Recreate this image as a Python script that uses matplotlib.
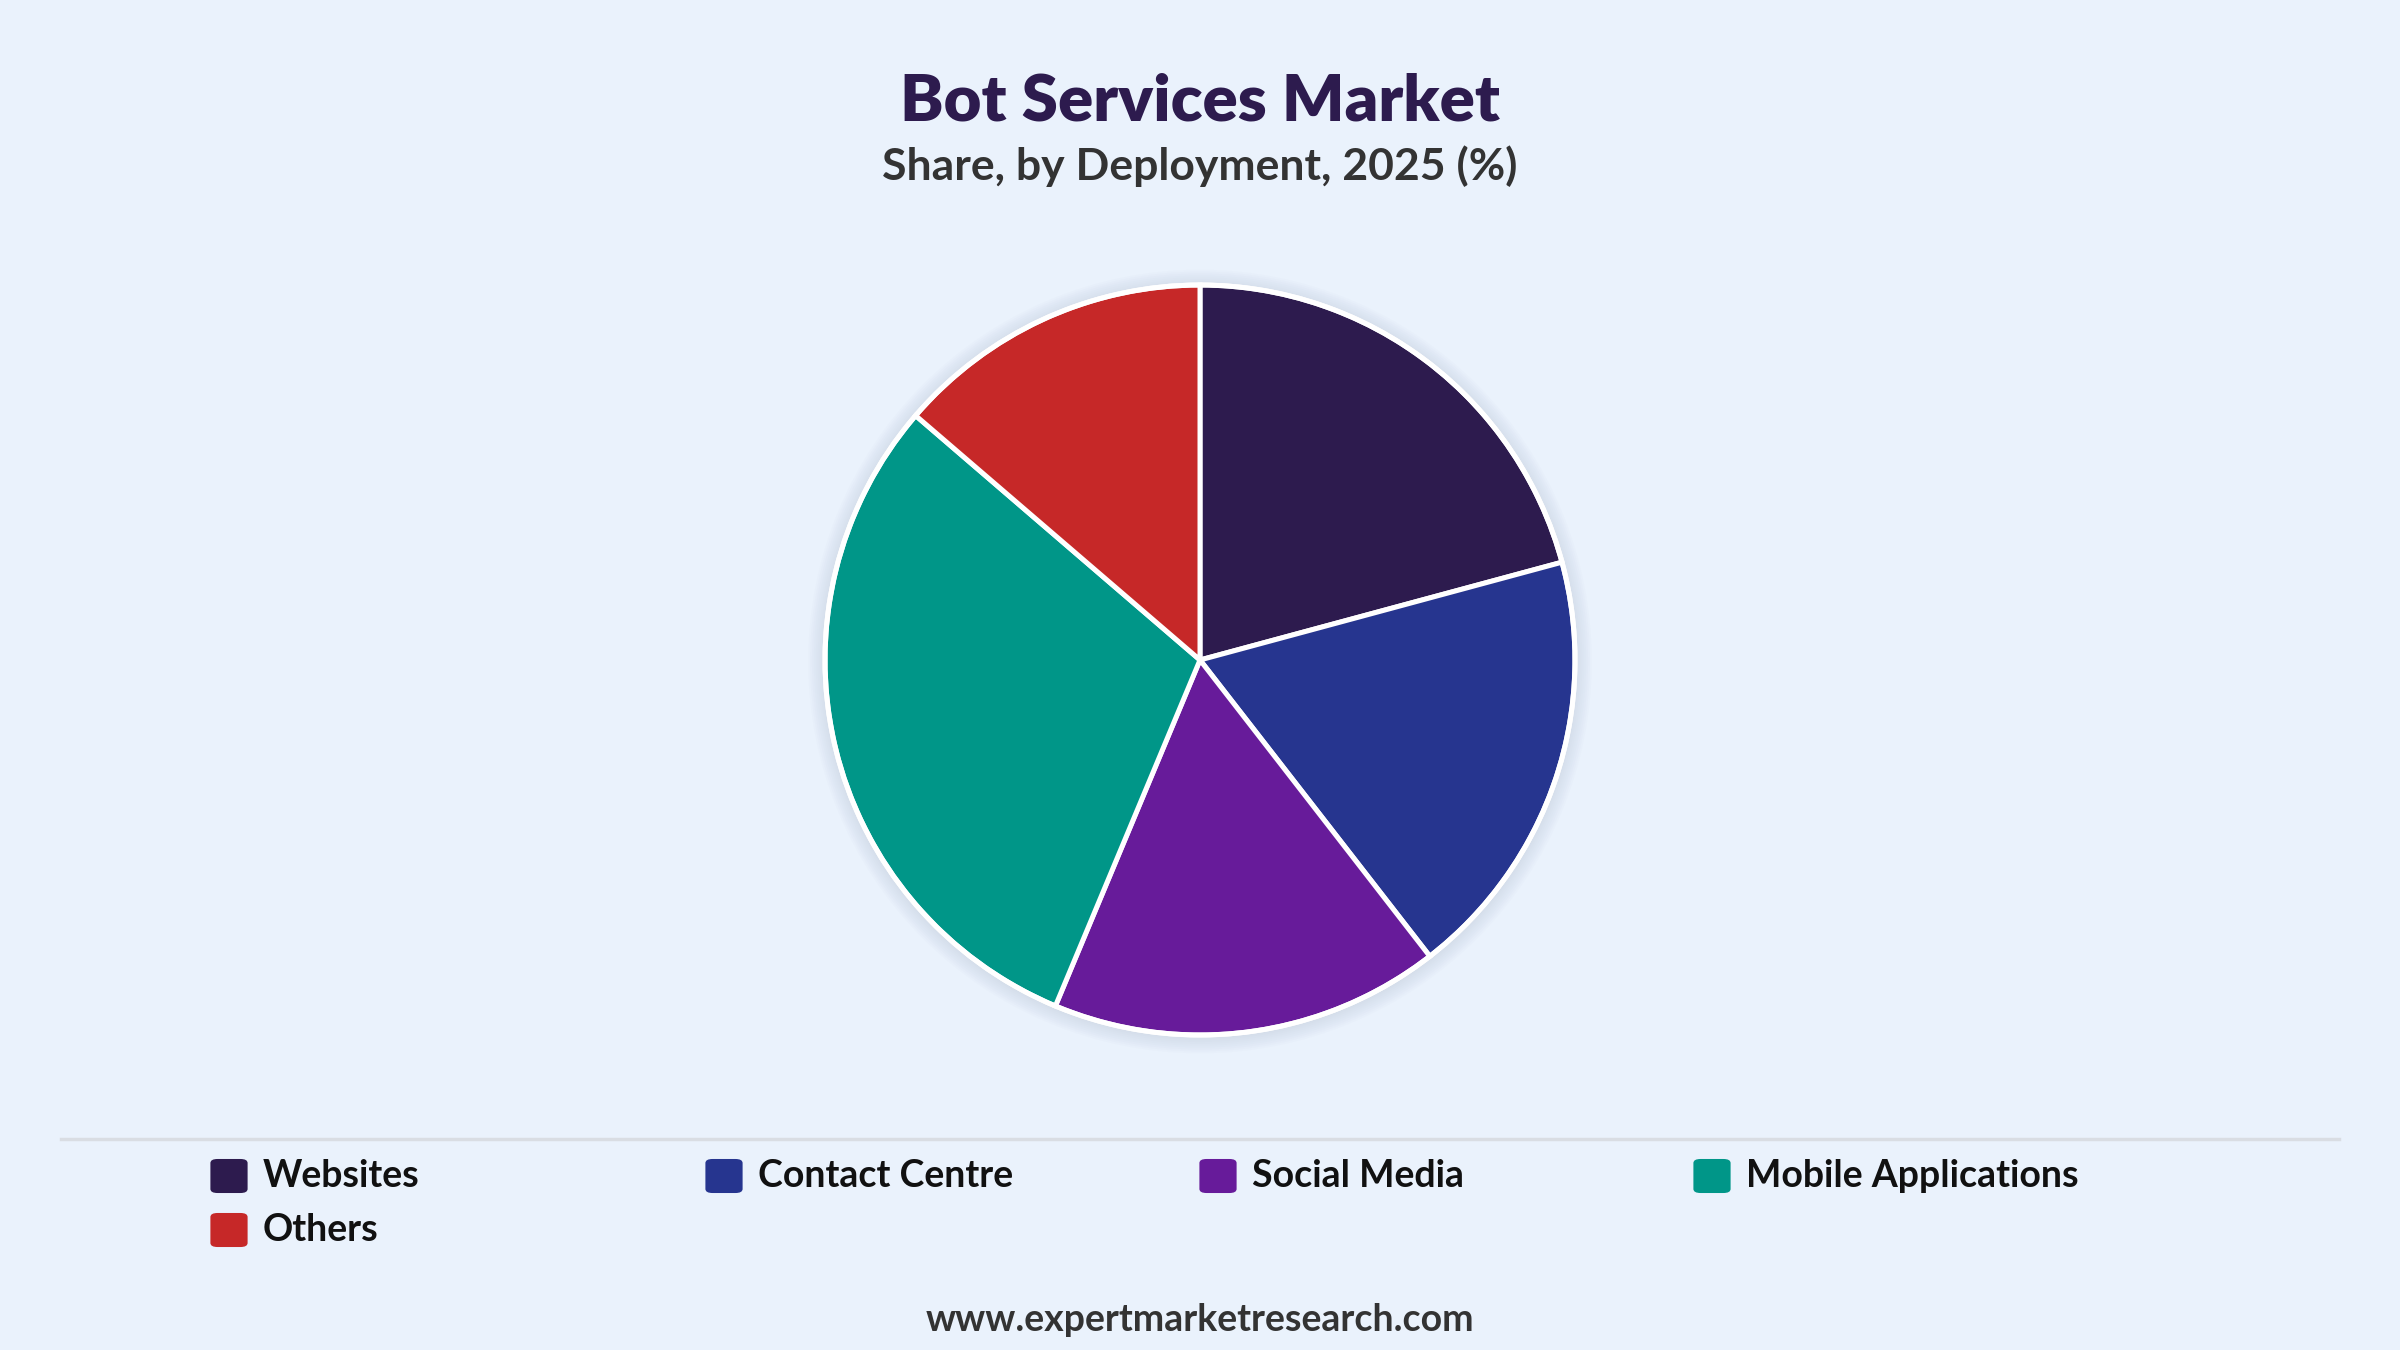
import matplotlib.pyplot as plt
from matplotlib.patches import Circle, FancyBboxPatch
from matplotlib.lines import Line2D

# deployment share, 2025 (%)
segments = ['Websites', 'Contact Centre', 'Social Media', 'Mobile Applications', 'Others']
shares = [20.8, 18.7, 16.8, 30.0, 13.7]
colors = ['#2D1B4E', '#26358F', '#671B9A', '#009688', '#C62828']

title = 'Bot Services Market'
subtitle = 'Share, by Deployment, 2025 (%)'
source = 'www.expertmarketresearch.com'

BG = '#EAF2FC'
W, H = 2400, 1350
FONT = 'Lato'

fig = plt.figure(figsize=(24, 13.5), dpi=100, facecolor=BG)

# pie axes: centre (1200, 660) px, radius 375 px
cx, cy, r_px = 1200, 660, 375
half = r_px * 1.1
ax = fig.add_axes([(cx - half) / W, (H - cy - half) / H, 2 * half / W, 2 * half / H])
ax.set_facecolor(BG)
ax.axis('off')

# soft shadow under the pie
for k in range(10):
    ax.add_patch(Circle((0, -0.004), 1.0 + 0.005 * k, color='#8a96a8',
                        alpha=0.022, lw=0, zorder=0))

ax.pie(shares, colors=colors, startangle=90, counterclock=False, radius=1.0,
       wedgeprops=dict(edgecolor='white', linewidth=3.6),
       frame=False)
ax.add_patch(Circle((0, 0), 1.0, fill=False, edgecolor='white', lw=3.6, zorder=5))
ax.set_xlim(-1.1, 1.1)
ax.set_ylim(-1.1, 1.1)
ax.set_aspect('equal')

fig.text(0.5, 1 - 102 / H, title, ha='center', va='center', fontsize=47,
         fontweight='heavy', color='#2D1B4E', family=FONT)
fig.text(0.5, 1 - 166 / H, subtitle, ha='center', va='center', fontsize=32,
         fontweight='bold', color='#333333', family=FONT)

# separator above legend
fig.add_artist(Line2D([61 / W, 2339 / W], [1 - 1139 / H, 1 - 1139 / H],
                      color='#D9DDE3', lw=2.5))

# legend laid out as a 4-column grid
col_x = [211, 706, 1200, 1694]
row_y = [1176, 1230]
box = 36
for i, (name, c) in enumerate(zip(segments, colors)):
    x0 = col_x[i % 4]
    y0 = row_y[i // 4]
    fig.add_artist(FancyBboxPatch(((x0 + 3) / W, 1 - (y0 + box / 2 - 3) / H),
                                  (box - 6) / W, (box - 6) / H,
                                  boxstyle='round,pad=0.0015,rounding_size=0.003',
                                  facecolor=c, edgecolor='none',
                                  transform=fig.transFigure))
    fig.text((x0 + box + 16) / W, 1 - y0 / H, name, ha='left', va='center',
             fontsize=27, fontweight='bold', color='#111111', family=FONT)

fig.text(0.5, 1 - 1320 / H, source, ha='center', va='center', fontsize=27,
         fontweight='bold', color='#333333', family=FONT)

fig.savefig('out.png', dpi=100, facecolor=BG)
